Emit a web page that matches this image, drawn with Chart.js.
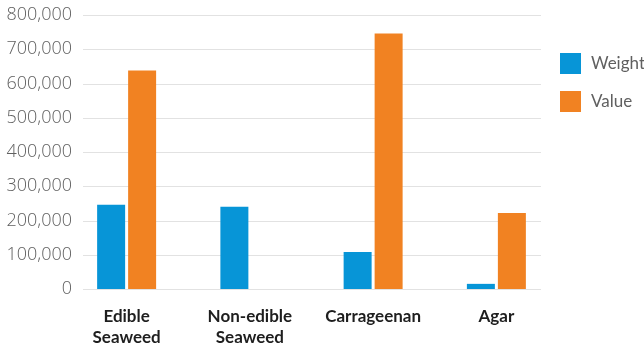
<!DOCTYPE html>
<html>
<head>
<meta charset="utf-8">
<script src="https://cdn.jsdelivr.net/npm/chart.js@4"></script>
<style>
  html, body { margin: 0; padding: 0; background: #ffffff; }
  #wrap { width: 644px; height: 345px; position: relative; }
</style>
</head>
<body>
<div id="wrap"><canvas id="c" width="644" height="345"></canvas></div>
<script>
const categories = [["Edible", "Seaweed"], ["Non-edible", "Seaweed"], "Carrageenan", "Agar"];
const seriesNames = ["Weight", "Value"];
const weightValues = [246000, 240000, 108000, 15000];
const valueValues = [638000, null, 746000, 222000];
const yTicks = [0, 100000, 200000, 300000, 400000, 500000, 600000, 700000, 800000];

const BLUE = "#0795d7";
const ORANGE = "#f18222";
const Y_FONT = { family: "Open Sans", size: 18, weight: "300" };

const fmt = v => v.toLocaleString("en-US");

// measure widest y label so mirrored labels end at a fixed right edge
const mctx = document.createElement("canvas").getContext("2d");
mctx.font = "300 18px 'Open Sans'";
const widestY = Math.max(...yTicks.map(v => mctx.measureText(fmt(v)).width));

const gridPlugin = {
  id: "customGrid",
  beforeDatasetsDraw(chart) {
    const ctx = chart.ctx;
    const y = chart.scales.y;
    ctx.save();
    ctx.strokeStyle = "#e2e2e2";
    ctx.lineWidth = 1.2;
    yTicks.forEach(v => {
      const py = Math.round(y.getPixelForValue(v)) + 0.5;
      ctx.beginPath();
      ctx.moveTo(83, py);
      ctx.lineTo(541, py);
      ctx.stroke();
    });
    ctx.restore();
  }
};

const legendPlugin = {
  id: "customLegend",
  afterDraw(chart) {
    const ctx = chart.ctx;
    ctx.save();
    chart.data.datasets.forEach((ds, i) => {
      const top = 53 + i * 38;
      ctx.fillStyle = ds.backgroundColor;
      ctx.fillRect(560, top, 21, 21);
      ctx.fillStyle = "#606060";
      ctx.font = "17px Lato";
      ctx.textBaseline = "middle";
      ctx.textAlign = "left";
      ctx.fillText(ds.label, 591, top + 11);
    });
    ctx.restore();
  }
};

new Chart(document.getElementById("c"), {
  type: "bar",
  data: {
    labels: categories,
    datasets: [
      { label: seriesNames[0], data: weightValues, backgroundColor: BLUE },
      { label: seriesNames[1], data: valueValues, backgroundColor: ORANGE }
    ]
  },
  options: {
    responsive: false,
    animation: false,
    devicePixelRatio: 1,
    layout: { padding: { top: 15, right: 86, left: 0, bottom: 0 } },
    datasets: { bar: { categoryPercentage: 0.503, barPercentage: 0.903 } },
    plugins: {
      legend: { display: false },
      tooltip: { enabled: false }
    },
    scales: {
      x: {
        grid: { display: false, drawTicks: false },
        border: { display: false },
        ticks: {
          color: "#1e1e1e",
          font: { family: "Lato", size: 17, weight: "bold", lineHeight: 1.25 },
          padding: 17,
          maxRotation: 0,
          autoSkip: false
        },
        afterFit(scale) { scale.height = 56; }
      },
      y: {
        min: 0,
        max: 800000,
        grid: { display: false, drawTicks: false },
        border: { display: false },
        ticks: {
          stepSize: 100000,
          color: "#606060",
          mirror: true,
          crossAlign: "far",
          padding: 7 - widestY,
          font: Y_FONT,
          callback: v => fmt(v)
        },
        afterFit(scale) { scale.width = 65; }
      }
    }
  },
  plugins: [gridPlugin, legendPlugin]
});
</script>
</body>
</html>
